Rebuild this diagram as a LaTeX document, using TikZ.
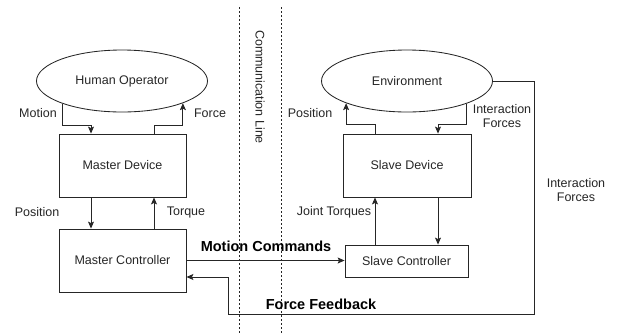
\documentclass[tikz,border=0pt]{standalone}
\usepackage{fontspec}
\setmainfont{Liberation Sans}
\usetikzlibrary{shapes.geometric,arrows.meta}

\tikzset{
  blob/.style={draw, ellipse, minimum width=171pt, minimum height=62pt, inner sep=0pt},
  unit/.style={draw, rectangle, minimum width=127pt, minimum height=63pt, inner sep=0pt},
  arr/.style={-{Stealth[length=7pt,width=6pt,inset=1.5pt]}},
  lbl/.style={font=\fontsize{12.5}{14}\selectfont, text=black!85, align=center},
  big/.style={font=\fontsize{14.5}{16}\bfseries, text=black}
}

\begin{document}
\begin{tikzpicture}[x=1pt, y=-1pt, line width=0.85pt, draw=black!85]
  \useasboundingbox (0,0) rectangle (618,333);

  % communication line
  \draw[dash pattern=on 2pt off 2pt, line width=0.7pt] (239,7) -- (239,333);
  \draw[dash pattern=on 2pt off 2pt, line width=0.7pt] (281,7) -- (281,333);
  \node[lbl, rotate=-90] (comm) at (260,87) {Communication Line};

  % master side
  \node[blob, lbl] (human) at (122,81) {Human Operator};
  \node[unit, lbl] (mdev) at (122.5,165.5) {Master Device};
  \node[unit, lbl] (mctl) at (122.5,260.5) {Master Controller};

  % slave side
  \node[blob, lbl] (env) at (407,81) {Environment};
  \node[unit, lbl, minimum width=128pt] (sdev) at (407,165.5) {Slave Device};
  \node[unit, lbl, minimum width=123pt, minimum height=32pt] (sctl) at (406.5,261) {Slave Controller};

  \coordinate (mi) at (91,125);
  \coordinate (fo) at (154,125);
  \coordinate (po) at (375,124);
  \coordinate (fi) at (438,124);
  \coordinate (fr) at (534,314);
  \coordinate (fb) at (228,277);

  % master loop
  \draw[arr] (human.201) |- (mi) -- (mi |- mdev.north);
  \draw[arr] (fo |- mdev.north) -- (fo) -| (human.340);
  \draw[arr] (mi |- mdev.south) -- (mi |- mctl.north);
  \draw[arr] (fo |- mctl.north) -- (fo |- mdev.south);

  % slave loop
  \draw[arr] (po |- sdev.north) -- (po) -| (env.200);
  \draw[arr] (env.339) |- (fi) -- (fi |- sdev.north);
  \draw[arr] (po |- sctl.north) -- (po |- sdev.south);
  \draw[arr] (fi |- sdev.south) -- (fi |- sctl.north);

  % across the line
  \draw[arr] (mctl.east) -- (mctl.east -| sctl.west);
  \draw[arr] (env.east) -| (fr) -| (fb) -- (fb -| mctl.east);

  \node[lbl] (lmotion) at (38,113) {Motion};
  \node[lbl] (lforce) at (210,113) {Force};
  \node[lbl] (lpos) at (37,212) {Position};
  \node[lbl] (ltorque) at (186,212) {Torque};
  \node[lbl] (lspos) at (310,113) {Position};
  \node[lbl] (linter) at (502,116) {Interaction\\Forces};
  \node[lbl] (ljoint) at (334,212) {Joint Torques};
  \node[lbl] (lright) at (576,190) {Interaction\\Forces};
  \node[big] (lcmd) at (266,246) {Motion Commands};
  \node[big] (lfeed) at (321,304) {Force Feedback};
\end{tikzpicture}
\end{document}
